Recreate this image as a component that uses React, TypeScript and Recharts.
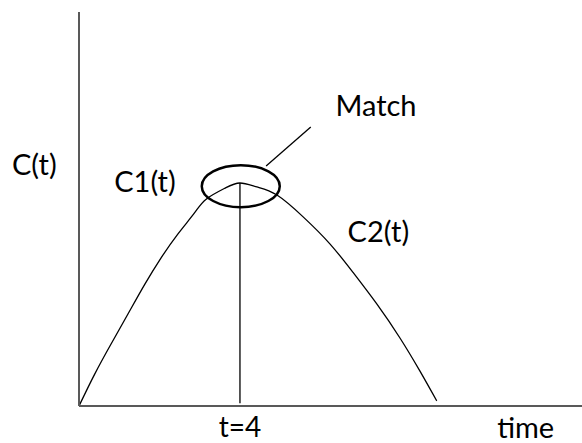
import { LineChart, Line, XAxis, YAxis, ReferenceLine, ReferenceDot } from "recharts"

// curve: time vs C(t)
const times = [0, 0.39, 0.8, 1.22, 1.63, 2.04, 2.46, 2.87, 3.16, 3.63, 4, 4.42, 4.91, 5.57, 6.24, 6.81, 7.4, 7.98, 8.47, 8.89]
const concentration = [0, 0.81, 1.58, 2.34, 3.08, 3.76, 4.37, 4.9, 5.25, 5.53, 5.66, 5.56, 5.36, 4.8, 4.11, 3.39, 2.59, 1.72, 0.89, 0.13]

const matchTime = 4
const peakLevel = 5.66
const matchCenter = { x: 4.02, y: 5.58 }
const leaderLine = [
  { x: 4.65, y: 6.09 },
  { x: 5.76, y: 7.08 },
]

const annotations = [
  { text: "C(t)", x: -1.11, y: 5.86 },
  { text: "C1(t)", x: 1.64, y: 5.43 },
  { text: "Match", x: 7.38, y: 7.36 },
  { text: "C2(t)", x: 7.44, y: 4.16 },
  { text: "time", x: 11.1, y: -0.81 },
]

const data = times.map((t, i) => ({ t, c: concentration[i] }))

const FONT = "Lato, 'Open Sans', sans-serif"
const AXIS = { stroke: "#595959", strokeWidth: 2 }

export default function App() {
  return (
    <div style={{ position: "absolute", left: 0, top: 0, background: "#fff" }}>
      <LineChart width={582} height={443} data={data} margin={{ top: 12, right: 0, left: 78, bottom: 36 }}>
        <XAxis
          dataKey="t"
          type="number"
          domain={[0, 12.5]}
          ticks={[matchTime]}
          tickFormatter={(v) => `t=${v}`}
          tickLine={false}
          tickSize={0}
          tickMargin={11}
          height={1}
          axisLine={AXIS}
          tick={{ fill: "#000", fontSize: 28, fontFamily: FONT }}
        />
        <YAxis type="number" domain={[0, 10]} width={1} tick={false} tickLine={false} axisLine={AXIS} />
        <Line
          dataKey="c"
          type="natural"
          stroke="#000"
          strokeWidth={1.3}
          dot={false}
          isAnimationActive={false}
        />
        <ReferenceLine
          segment={[
            { x: matchTime, y: 0.07 },
            { x: matchTime, y: peakLevel },
          ]}
          stroke="#000"
          strokeWidth={1.3}
        />
        <ReferenceLine segment={leaderLine} stroke="#000" strokeWidth={1.3} />
        <ReferenceDot
          x={matchCenter.x}
          y={matchCenter.y}
          r={20}
          shape={(p: any) => (
            <ellipse cx={p.cx} cy={p.cy} rx={39} ry={21} fill="none" stroke="#000" strokeWidth={2.5} />
          )}
        />
        {annotations.map((a) => (
          <ReferenceDot
            key={a.text}
            x={a.x}
            y={a.y}
            r={1}
            ifOverflow="visible"
            shape={(p: any) => (
              <text x={p.cx} y={p.cy} textAnchor="middle" fontSize={29} fontFamily={FONT} fill="#000">
                {a.text}
              </text>
            )}
          />
        ))}
      </LineChart>
    </div>
  )
}
